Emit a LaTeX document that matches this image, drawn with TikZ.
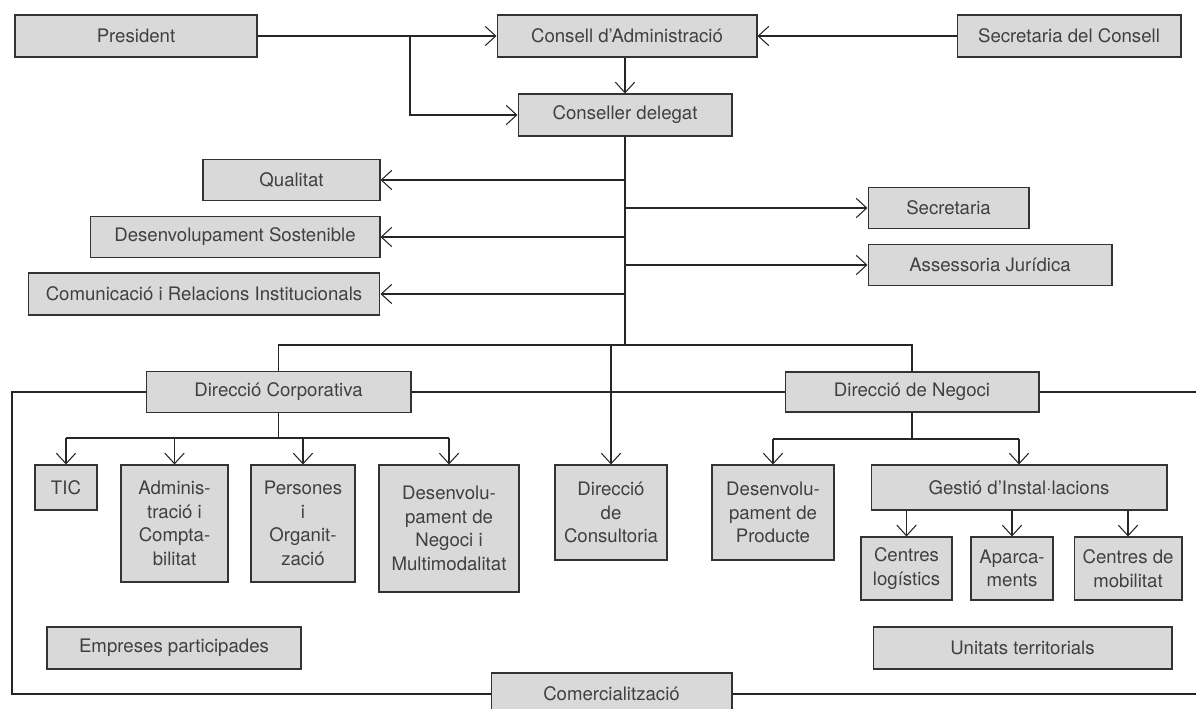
\documentclass[tikz,border=0pt]{standalone}
\usepackage{fontspec}
\setmainfont{TeX Gyre Heros}
\usetikzlibrary{arrows.meta}

\begin{document}
\begin{tikzpicture}[x=0.02cm, y=-0.02cm, line width=0.6pt, color=black!85,
	box/.style={draw=black!80, fill=black!15, text=black!75, inner sep=0pt, align=center, font=\fontsize{10.6}{13.4}\selectfont},
	arr/.style={-{Straight Barb[length=6pt, width=11pt]}}]
	\useasboundingbox (0,0) rectangle (1196,709);

	\node[box, minimum width=4.84cm, minimum height=0.84cm] (pres) at (136,36) {President};
	\node[box, minimum width=5.2cm, minimum height=0.84cm] (consell) at (627,36) {Consell d’Administració};
	\node[box, minimum width=4.48cm, minimum height=0.84cm] (secc) at (1069,36) {Secretaria del Consell};
	\node[box, minimum width=4.28cm, minimum height=0.84cm] (cdel) at (625,115) {Conseller delegat};

	\node[box, minimum width=3.54cm, minimum height=0.82cm] (qual) at (291.5,180) {Qualitat};
	\node[box, minimum width=3.22cm, minimum height=0.82cm] (secr) at (948.5,208) {Secretaria};
	\node[box, minimum width=5.8cm, minimum height=0.82cm] (desos) at (235,237) {Desenvolupament Sostenible};
	\node[box, minimum width=4.88cm, minimum height=0.82cm] (asses) at (990,265) {Assessoria Jurídica};
	\node[box, minimum width=7.04cm, minimum height=0.84cm] (comun) at (204,294) {Comunicació i Relacions Institucionals};

	\node[box, minimum width=5.3cm, minimum height=0.82cm] (dcorp) at (278.5,392) {Direcció Corporativa};
	\node[box, minimum width=5.08cm, minimum height=0.8cm] (dneg) at (912,392) {Direcció de Negoci};

	\node[box, minimum width=1.24cm, minimum height=0.9cm] (tic) at (66,487.5) {TIC};
	\node[box, minimum width=2.14cm, minimum height=2.34cm] (admin) at (174.5,523.5) {Adminis-\\tració i\\Compta-\\bilitat};
	\node[box, minimum width=2.08cm, minimum height=2.34cm] (pers) at (303,523.5) {Persones\\i\\Organit-\\zació};
	\node[box, minimum width=2.8cm, minimum height=2.54cm] (dnm) at (449,528.5) {Desenvolu-\\pament de\\Negoci i\\Multimodalitat};
	\node[box, minimum width=2.24cm, minimum height=1.9cm] (dcons) at (611,512.5) {Direcció\\de\\Consultoria};
	\node[box, minimum width=2.44cm, minimum height=1.9cm] (dprod) at (773,512.5) {Desenvolu-\\pament de\\Producte};
	\node[box, minimum width=5.92cm, minimum height=0.9cm] (gest) at (1019,487.5) {Gestió d’Instal·lacions};
	\node[box, minimum width=1.82cm, minimum height=1.26cm] (clog) at (906.5,568.5) {Centres\\logístics};
	\node[box, minimum width=1.64cm, minimum height=1.26cm] (aparc) at (1012,568.5) {Aparca-\\ments};
	\node[box, minimum width=2.16cm, minimum height=1.26cm] (cmob) at (1128,568.5) {Centres de\\mobilitat};

	\node[box, minimum width=5.08cm, minimum height=0.84cm] (empr) at (174,648) {Empreses participades};
	\node[box, minimum width=5.98cm, minimum height=0.84cm] (unit) at (1022.5,648) {Unitats territorials};
	\node[box, minimum width=4.82cm, minimum height=0.84cm] (comer) at (611.5,694) {Comercialització};

	\coordinate (pbr) at (410,36);
	\coordinate (hub) at (625,345);
	\coordinate (cbar) at (278.5,438);
	\coordinate (nbar) at (912,439);
	\coordinate (fl) at (12,392);
	\coordinate (fb) at (12,694);
	\coordinate (fr) at (1200,392);
	\coordinate (fbr) at (1200,694);

	\draw[arr] (pres) -- (consell);
	\draw[arr] (secc) -- (consell);
	\draw[arr] (pbr) |- (cdel.west);
	\draw[arr] (consell.south -| cdel.north) -- (cdel.north);

	\draw (cdel.south) -- (hub);
	\foreach \n in {qual,desos,comun}
		\draw[arr] (hub |- \n.east) -- (\n.east);
	\foreach \n in {secr,asses}
		\draw[arr] (hub |- \n.west) -- (\n.west);

	\draw (dcorp.north) -- (dcorp.north |- hub) -- (dneg.north |- hub) -- (dneg.north);
	\draw[arr] (dcons.north |- hub) -- (dcons.north);

	\draw (dcorp.west) -- (fl) -- (fb) -- (comer.west);
	\draw (comer.east) -- (fbr);
	\draw (dcorp.east) -- (dneg.west);
	\draw (dneg.east) -- (fr);

	\draw (dcorp.south) -- (cbar);
	\draw (tic.north |- cbar) -- (dnm.north |- cbar);
	\foreach \n in {tic,admin,pers,dnm}
		\draw[arr] (\n.north |- cbar) -- (\n.north);

	\draw (dneg.south) -- (nbar);
	\draw (dprod.north |- nbar) -- (gest.north |- nbar);
	\foreach \n in {dprod,gest}
		\draw[arr] (\n.north |- nbar) -- (\n.north);
	\foreach \n in {clog,aparc,cmob}
		\draw[arr] (\n.north |- gest.south) -- (\n.north);
\end{tikzpicture}
\end{document}
